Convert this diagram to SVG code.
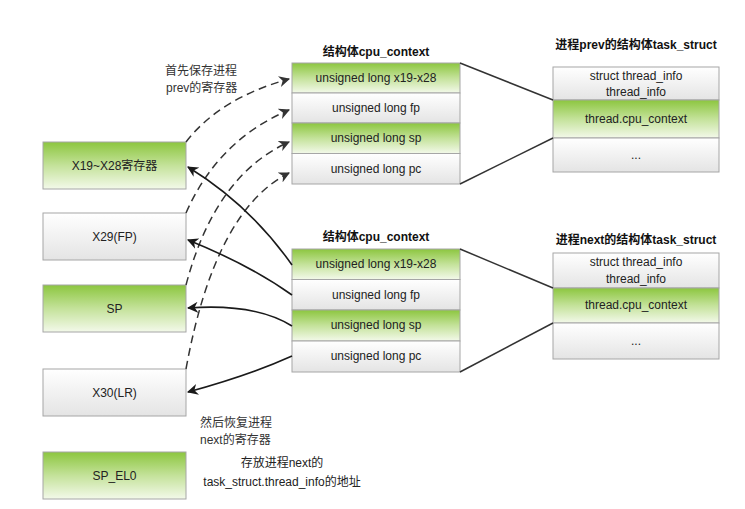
<svg xmlns="http://www.w3.org/2000/svg" width="745" height="509" viewBox="0 0 745 509">
<defs>
<linearGradient id="gG" x1="0" y1="0" x2="0" y2="1">
<stop offset="0" stop-color="#8cc63f"/>
<stop offset="0.5" stop-color="#c4e29a"/>
<stop offset="1" stop-color="#f3f9ea"/>
</linearGradient>
<linearGradient id="gW" x1="0" y1="0" x2="0" y2="1">
<stop offset="0" stop-color="#ffffff"/>
<stop offset="1" stop-color="#e4e4e4"/>
</linearGradient>
<marker id="ah" viewBox="0 0 10 10" refX="9" refY="5" markerWidth="11" markerHeight="11" markerUnits="userSpaceOnUse" orient="auto">
<path d="M0,0 L10,5 L0,10 L3,5 Z" fill="#1a1a1a"/>
</marker>
<marker id="ahd" viewBox="0 0 10 10" refX="9" refY="5" markerWidth="11" markerHeight="11" markerUnits="userSpaceOnUse" orient="auto">
<path d="M0,0 L10,5 L0,10 L3,5 Z" fill="#333"/>
</marker>
</defs>
<style>
.g{fill:url(#gG);stroke:#a6a6a6;stroke-width:1}
.w{fill:url(#gW);stroke:#a6a6a6;stroke-width:1}
.t{font-family:"Liberation Sans","Noto Sans CJK SC",sans-serif;font-size:12px;fill:#222;text-anchor:middle;dominant-baseline:central}
.h{font-family:"Liberation Sans","Noto Sans CJK SC",sans-serif;font-size:12px;font-weight:bold;fill:#111;text-anchor:middle;dominant-baseline:central}
.n{font-family:"Liberation Sans","Noto Sans CJK SC",sans-serif;font-size:12px;fill:#333;dominant-baseline:central}
.ln{fill:none;stroke:#333;stroke-width:1.5}
.sa{fill:none;stroke:#1a1a1a;stroke-width:1.6;marker-end:url(#ah)}
.da{fill:none;stroke:#333;stroke-width:1.5;stroke-dasharray:8,5;marker-end:url(#ahd)}
</style>
<rect width="745" height="509" fill="#ffffff"/>

<g id="reg-x19">
<rect class="g" x="43" y="142" width="143" height="47"/>
<text class="t" x="114.5" y="166">X19~X28寄存器</text>
</g>
<g id="reg-x29">
<rect class="w" x="43" y="213" width="143" height="47"/>
<text class="t" x="114.5" y="237">X29(FP)</text>
</g>
<g id="reg-sp">
<rect class="g" x="43" y="285" width="143" height="47"/>
<text class="t" x="114.5" y="309">SP</text>
</g>
<g id="reg-x30">
<rect class="w" x="43" y="369" width="143" height="47"/>
<text class="t" x="114.5" y="393">X30(LR)</text>
</g>
<g id="reg-spel0">
<rect class="g" x="43" y="452" width="143" height="47"/>
<text class="t" x="114.5" y="476">SP_EL0</text>
</g>

<g id="ctx-prev">
<text class="h" x="376" y="52">结构体cpu_context</text>
<rect class="g" x="292" y="63" width="168" height="30"/>
<text class="t" x="376" y="78">unsigned long x19-x28</text>
<rect class="w" x="292" y="93" width="168" height="30"/>
<text class="t" x="376" y="108">unsigned long fp</text>
<rect class="g" x="292" y="123" width="168" height="30.5"/>
<text class="t" x="376" y="138">unsigned long sp</text>
<rect class="w" x="292" y="153.5" width="168" height="30.5"/>
<text class="t" x="376" y="169">unsigned long pc</text>
</g>

<g id="ctx-next">
<text class="h" x="376" y="237">结构体cpu_context</text>
<rect class="g" x="292" y="249" width="168" height="30.5"/>
<text class="t" x="376" y="264">unsigned long x19-x28</text>
<rect class="w" x="292" y="279.5" width="168" height="30.5"/>
<text class="t" x="376" y="295">unsigned long fp</text>
<rect class="g" x="292" y="310" width="168" height="31"/>
<text class="t" x="376" y="325">unsigned long sp</text>
<rect class="w" x="292" y="341" width="168" height="31"/>
<text class="t" x="376" y="356">unsigned long pc</text>
</g>

<g id="task-prev">
<text class="h" x="636" y="45">进程prev的结构体task_struct</text>
<rect class="w" x="553" y="67" width="166" height="33"/>
<text class="t" x="636" y="76">struct thread_info</text>
<text class="t" x="636" y="92">thread_info</text>
<rect class="g" x="553" y="100" width="166" height="38"/>
<text class="t" x="636" y="119">thread.cpu_context</text>
<rect class="w" x="553" y="138" width="166" height="34"/>
<text class="t" x="636" y="155">...</text>
</g>

<g id="task-next">
<text class="h" x="636" y="240">进程next的结构体task_struct</text>
<rect class="w" x="553" y="253" width="166" height="35"/>
<text class="t" x="636" y="262">struct thread_info</text>
<text class="t" x="636" y="279">thread_info</text>
<rect class="g" x="553" y="288" width="166" height="35"/>
<text class="t" x="636" y="305">thread.cpu_context</text>
<rect class="w" x="553" y="323" width="166" height="36"/>
<text class="t" x="636" y="341">...</text>
</g>

<g id="connectors">
<line class="ln" x1="460" y1="63" x2="553" y2="100"/>
<line class="ln" x1="460" y1="184" x2="553" y2="138"/>
<line class="ln" x1="460" y1="249" x2="553" y2="288"/>
<line class="ln" x1="460" y1="372" x2="553" y2="323"/>

<path class="da" d="M186,142 Q220,98 289,79"/>
<path class="da" d="M186,213 Q218,140 289,110"/>
<path class="da" d="M186,285 Q215,175 289,142"/>
<path class="da" d="M186,369 Q215,210 289,173"/>

<path class="sa" d="M292,265 Q250,205 188,167"/>
<path class="sa" d="M292,295 Q250,265 188,240"/>
<path class="sa" d="M292,326 Q255,303 188,308"/>
<path class="sa" d="M292,356 Q250,375 188,392"/>
</g>

<g id="labels">
<text class="n" x="165" y="71">首先保存进程</text>
<text class="n" x="166" y="88">prev的寄存器</text>
<text class="n" x="200" y="423">然后恢复进程</text>
<text class="n" x="200" y="440">next的寄存器</text>
<text class="t" x="282" y="463">存放进程next的</text>
<text class="t" x="282" y="482">task_struct.thread_info的地址</text>
</g>
</svg>
